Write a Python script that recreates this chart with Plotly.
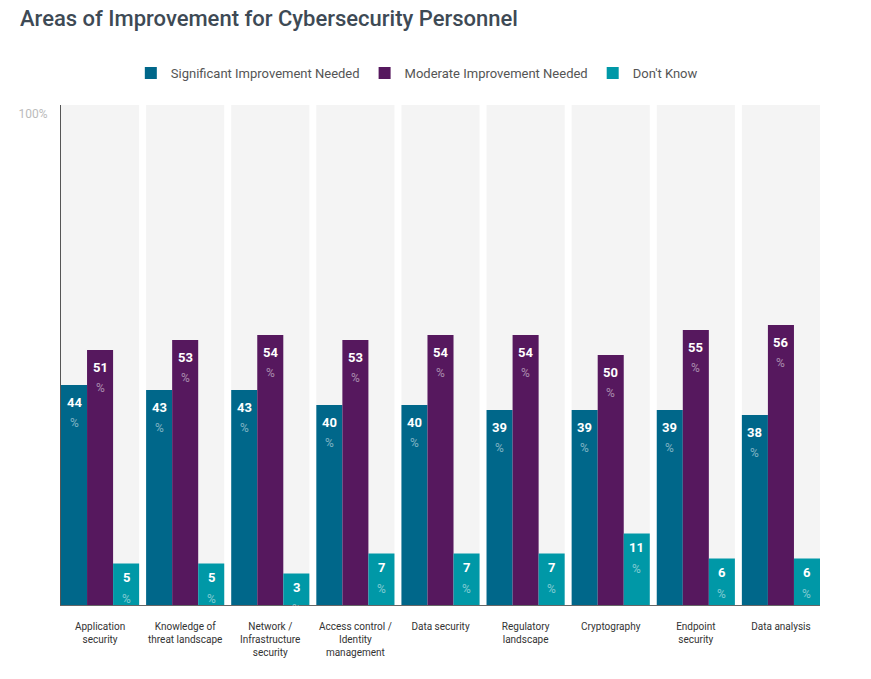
import plotly.graph_objects as go

categories = ['Application<br>security', 'Knowledge of<br>threat landscape',
              'Network /<br>Infrastructure<br>security',
              'Access control /<br>Identity<br>management', 'Data security',
              'Regulatory<br>landscape', 'Cryptography', 'Endpoint<br>security',
              'Data analysis']
significant = [44, 43, 43, 40, 40, 39, 39, 39, 38]
moderate = [51, 53, 54, 53, 54, 54, 50, 55, 56]
dont_know = [5, 5, 3, 7, 7, 7, 11, 6, 6]

series = [('Significant Improvement Needed', significant, '#00678a'),
          ('Moderate Improvement Needed', moderate, '#56185e'),
          ("Don't Know", dont_know, '#0098a7')]

x = list(range(len(categories)))
band = 0.918
w = band / 3

fig = go.Figure()

# grey background column for each category
fig.add_trace(go.Bar(x=x, y=[100] * len(x), width=band, offset=-band / 2,
                     marker=dict(color='#f4f4f4', line_width=0),
                     showlegend=False, hoverinfo='skip'))

annotations = []
for i, (name, vals, color) in enumerate(series):
    off = -band / 2 + i * w
    # the original gives the small "Don't Know" bars extra room for their label
    pad = 3.3 if name == "Don't Know" else 0
    tops = [v + pad for v in vals]
    fig.add_trace(go.Bar(x=x, y=tops, name=name, width=w, offset=off,
                         marker=dict(color=color, line_width=0),
                         customdata=vals, hovertemplate='%{customdata}%'))
    s1, s2 = (-14, -35) if pad else (-17, -38)
    for cx, v, t in zip(x, vals, tops):
        xc = cx + off + w / 2
        # value on top, a faded % sign under it
        annotations.append(dict(x=xc, y=t, text=f'<b>{v}</b>', showarrow=False,
                                yanchor='middle', yshift=s1,
                                font=dict(family='Roboto', size=13, color='white')))
        annotations.append(dict(x=xc, y=t, text='%', showarrow=False,
                                yanchor='middle', yshift=s2,
                                font=dict(family='Roboto', size=12,
                                          color='rgba(255,255,255,0.5)')))

# page body has an 8px margin, so everything is shifted up/left by 8
fig.update_layout(
    width=871, height=679,
    barmode='overlay',
    paper_bgcolor='white', plot_bgcolor='white',
    margin=dict(l=53, r=59, t=97, b=82),
    font=dict(family='Roboto', color='#333'),
    title=dict(text='Areas of Improvement for Cybersecurity Personnel',
               x=12 / 871, xanchor='left', y=1 - 10 / 679, yanchor='middle',
               font=dict(family='Roboto', size=22, color='#3e4a55', weight=500)),
    legend=dict(orientation='h', x=0.092, xanchor='left', y=1.064, yanchor='middle',
                font=dict(size=13, color='#555'), traceorder='normal'),
    showlegend=True,
    annotations=annotations,
)
fig.update_xaxes(range=[-band / 2, len(x) - 1 + band / 2], tickvals=x,
                 ticktext=categories, showgrid=False, zeroline=False,
                 showline=True, linecolor='#666', linewidth=1,
                 tickfont=dict(size=10, color='#333'), ticks='', ticklabelstandoff=12)
fig.update_yaxes(range=[0, 100], tickvals=[100], ticktext=['100%'],
                 showgrid=False, zeroline=False, showline=True, linecolor='#555',
                 linewidth=1, tickfont=dict(size=12, color='#bbb'),
                 ticklabelposition='outside bottom', ticklabelstandoff=10)

fig.write_html('out.html')
